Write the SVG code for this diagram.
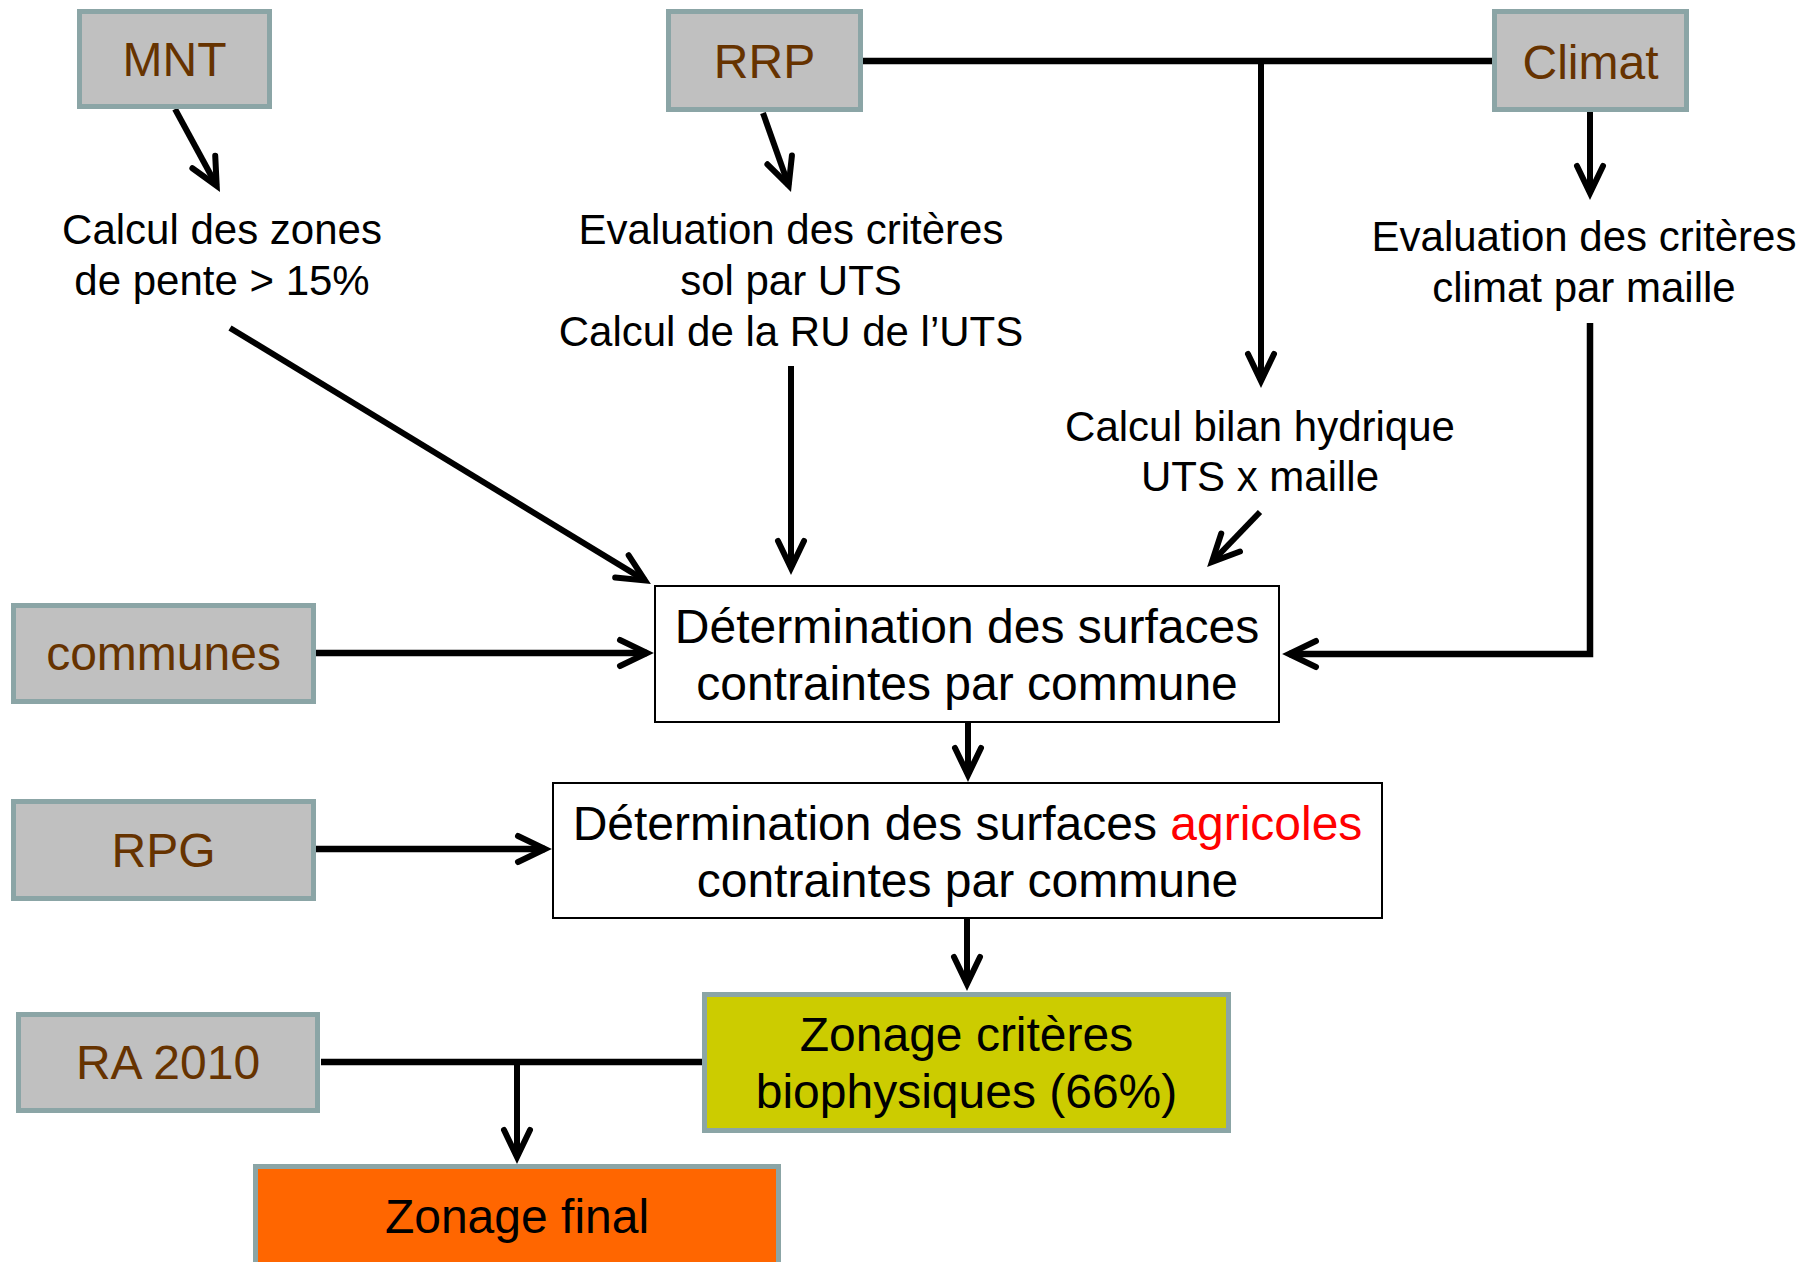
<svg xmlns="http://www.w3.org/2000/svg" width="1816" height="1262" viewBox="0 0 1816 1262">
<style>
.src{fill:#C0C0C0;stroke:#8BA5A6;stroke-width:5}
.src-t{font-family:"Liberation Sans",Arial,sans-serif;font-size:48px;fill:#663300;text-anchor:middle}
.proc{fill:#FFFFFF;stroke:#000;stroke-width:2}
.big{font-family:"Liberation Sans",Arial,sans-serif;font-size:48px;fill:#000;text-anchor:middle}
.lbl{font-family:"Liberation Sans",Arial,sans-serif;font-size:42px;fill:#000;text-anchor:middle}
.c{fill:none;stroke:#000;stroke-width:6;stroke-linecap:butt}
.thick{stroke-width:6.5}
.arr{marker-end:url(#ah)}
</style>
<defs>
<marker id="ah" markerUnits="userSpaceOnUse" orient="auto" overflow="visible" markerWidth="1" markerHeight="1" refX="0" refY="0">
<path d="M-27,-13 L0,0 L-27,13" fill="none" stroke="#000" stroke-width="6" stroke-linecap="round" stroke-linejoin="miter"/>
</marker>
</defs>
<rect width="1816" height="1262" fill="#FFFFFF"/>

<g id="connectors">
<line class="c arr" x1="175" y1="109" x2="216.7" y2="185.8"/>
<line class="c arr" x1="763" y1="113" x2="788.7" y2="185.4"/>
<line class="c thick" x1="863" y1="61" x2="1492" y2="61"/>
<line class="c arr" x1="1261" y1="61" x2="1261" y2="381"/>
<line class="c arr" x1="1590" y1="112" x2="1590" y2="193"/>
<line class="c arr" x1="230" y1="328" x2="645" y2="580.4"/>
<line class="c arr" x1="791" y1="366" x2="791" y2="568"/>
<line class="c arr" x1="1260" y1="512" x2="1211.9" y2="562"/>
<path class="c thick arr" d="M1590,323 V654 H1289"/>
<line class="c thick arr" x1="316" y1="653" x2="647" y2="653"/>
<line class="c thick arr" x1="316" y1="849" x2="545" y2="849"/>
<line class="c arr" x1="968" y1="723" x2="968" y2="775"/>
<line class="c arr" x1="967" y1="918" x2="967" y2="984"/>
<line class="c thick" x1="321" y1="1062" x2="702" y2="1062"/>
<line class="c arr" x1="517" y1="1062" x2="517" y2="1157"/>
</g>

<g id="mnt">
<rect class="src" x="79.5" y="11.5" width="190" height="95"/>
<text class="src-t" x="174.5" y="76">MNT</text>
</g>
<g id="rrp">
<rect class="src" x="668.5" y="11.5" width="192" height="98"/>
<text class="src-t" x="764.5" y="78">RRP</text>
</g>
<g id="climat">
<rect class="src" x="1494.5" y="11.5" width="192" height="98"/>
<text class="src-t" x="1590.5" y="79">Climat</text>
</g>

<g id="pente">
<text class="lbl" x="222" y="244">Calcul des zones</text>
<text class="lbl" x="222" y="295">de pente &gt; 15%</text>
</g>
<g id="sol">
<text class="lbl" x="791" y="244">Evaluation des critères</text>
<text class="lbl" x="791" y="295">sol par UTS</text>
<text class="lbl" x="791" y="346">Calcul de la RU de l’UTS</text>
</g>
<g id="climat-eval">
<text class="lbl" x="1584" y="251">Evaluation des critères</text>
<text class="lbl" x="1584" y="302">climat par maille</text>
</g>
<g id="bilan">
<text class="lbl" x="1260" y="441">Calcul bilan hydrique</text>
<text class="lbl" x="1260" y="491">UTS x maille</text>
</g>

<g id="surfaces">
<rect class="proc" x="655" y="586" width="624" height="136"/>
<text class="big" x="967" y="643">Détermination des surfaces</text>
<text class="big" x="967" y="700">contraintes par commune</text>
</g>
<g id="communes">
<rect class="src" x="13.5" y="605.5" width="300" height="96"/>
<text class="src-t" x="163.5" y="670">communes</text>
</g>

<g id="surfaces-agricoles">
<rect class="proc" x="553" y="783" width="829" height="135"/>
<text class="big" x="967.5" y="840">Détermination des surfaces <tspan fill="#FF0000">agricoles</tspan></text>
<text class="big" x="967.5" y="897">contraintes par commune</text>
</g>
<g id="rpg">
<rect class="src" x="13.5" y="801.5" width="300" height="97"/>
<text class="src-t" x="163.5" y="867">RPG</text>
</g>

<g id="zonage-bio">
<rect x="704.5" y="994.5" width="524" height="136" fill="#CCCC00" stroke="#8BA5A6" stroke-width="5"/>
<text class="big" x="966.5" y="1051">Zonage critères</text>
<text class="big" x="966.5" y="1108">biophysiques (66%)</text>
</g>
<g id="ra2010">
<rect class="src" x="18.5" y="1014.5" width="299" height="96"/>
<text class="src-t" x="168" y="1079">RA 2010</text>
</g>

<g id="zonage-final">
<rect x="255.5" y="1166.5" width="523" height="120" fill="#FF6600" stroke="#8BA5A6" stroke-width="5"/>
<text class="big" x="517" y="1233">Zonage final</text>
</g>
</svg>
